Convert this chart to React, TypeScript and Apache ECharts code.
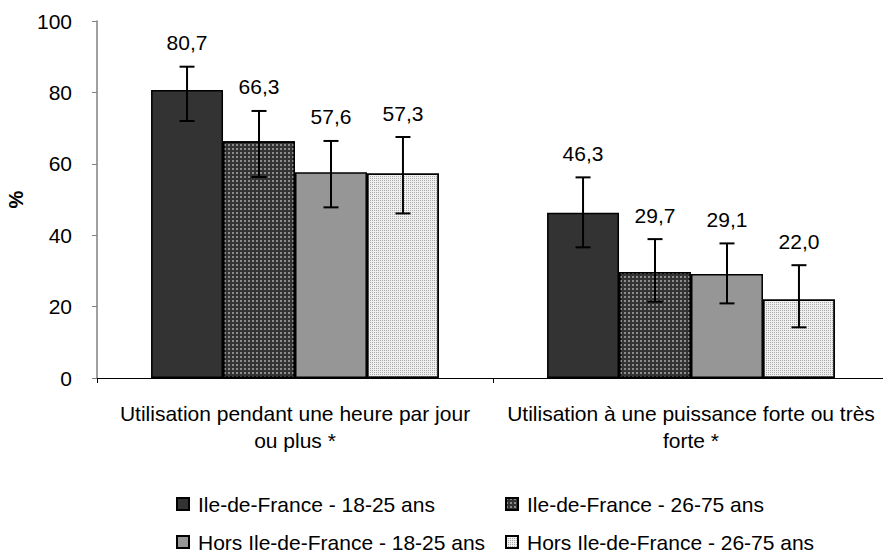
import React, { useEffect, useRef } from "react";
import * as echarts from "echarts";

const categories = [
  "Utilisation pendant une heure par jour\nou plus *",
  "Utilisation à une puissance forte ou très\nforte *",
];
const seriesNames = [
  "Ile-de-France - 18-25 ans",
  "Ile-de-France - 26-75 ans",
  "Hors Ile-de-France - 18-25 ans",
  "Hors Ile-de-France - 26-75 ans",
];
const idf1825 = [80.7, 46.3];
const idf2675 = [66.3, 29.7];
const hors1825 = [57.6, 29.1];
const hors2675 = [57.3, 22.0];
const idf1825Low = [72.0, 36.6];
const idf1825High = [87.2, 56.2];
const idf2675Low = [56.3, 21.4];
const idf2675High = [74.8, 38.9];
const hors1825Low = [47.8, 20.9];
const hors1825High = [66.4, 37.7];
const hors2675Low = [46.1, 14.2];
const hors2675High = [67.5, 31.6];
const yTicks = [0, 20, 40, 60, 80, 100];

const FONT = "'Liberation Sans', Arial, sans-serif";
const CAT_GAP = 0.273;

export default function App() {
  const ref = useRef<HTMLDivElement>(null);
  useEffect(() => {
    document.body.style.margin = "0";
    if (!ref.current) return;
    const chart = echarts.init(ref.current, null, { renderer: "svg" });
    const values = [idf1825, idf2675, hors1825, hors2675];
    const lows = [idf1825Low, idf2675Low, hors1825Low, hors2675Low];
    const highs = [idf1825High, idf2675High, hors1825High, hors2675High];
    const styles: any[] = [
      { color: "#333333", borderColor: "#000", borderWidth: 1.5 },
      {
        color: "#333333",
        borderColor: "#000",
        borderWidth: 1.5,
        decal: {
          symbol: "rect",
          symbolSize: 0.8,
          color: "rgba(225,225,225,0.85)",
          dashArrayX: [2, 2],
          dashArrayY: [2, 2],
        },
      },
      { color: "#969696", borderColor: "#000", borderWidth: 1.5 },
      {
        color: "#f0f0f0",
        borderColor: "#000",
        borderWidth: 1.5,
        decal: {
          symbol: "rect",
          symbolSize: 1,
          color: "#a8a8a8",
          dashArrayX: [1, 1],
          dashArrayY: [1, 1],
        },
      },
    ];
    const barSeries = seriesNames.map((name, i) => ({
      name,
      type: "bar",
      data: values[i],
      barGap: "0%",
      barCategoryGap: (CAT_GAP * 100).toFixed(1) + "%",
      itemStyle: styles[i],
      z: 2,
    }));
    const errData: number[][] = [];
    for (let s = 0; s < 4; s++) {
      for (let c = 0; c < categories.length; c++) {
        errData.push([c, s, lows[s][c], highs[s][c], values[s][c]]);
      }
    }
    const errSeries = {
      type: "custom",
      z: 5,
      encode: { x: 0, y: [2, 3] },
      data: errData,
      renderItem: (params: any, api: any) => {
        const c = api.value(0);
        const s = api.value(1);
        const lo = api.value(2);
        const hi = api.value(3);
        const v = api.value(4);
        const bandW = api.size([1, 0])[0];
        const barW = (bandW * (1 - CAT_GAP)) / 4;
        const pLo = api.coord([c, lo]);
        const pHi = api.coord([c, hi]);
        const x = pLo[0] + (s - 1.5) * barW;
        const cap = 7.5;
        const ls = { stroke: "#000", lineWidth: 2 };
        return {
          type: "group",
          children: [
            { type: "line", shape: { x1: x, y1: pLo[1], x2: x, y2: pHi[1] }, style: ls },
            { type: "line", shape: { x1: x - cap, y1: pHi[1], x2: x + cap, y2: pHi[1] }, style: ls },
            { type: "line", shape: { x1: x - cap, y1: pLo[1], x2: x + cap, y2: pLo[1] }, style: ls },
            {
              type: "text",
              x: x,
              y: pHi[1] - 24,
              style: {
                text: v.toFixed(1).replace(".", ","),
                fill: "#000",
                font: `21px ${FONT}`,
                align: "center",
                verticalAlign: "middle",
              },
            },
          ],
        };
      },
    };
    const legendText = { fontFamily: FONT, fontSize: 21, color: "#000", padding: [0, 0, 0, 4], lineHeight: 24 };
    const legendBase = {
      orient: "vertical",
      top: 487,
      height: 90,
      itemWidth: 12,
      itemHeight: 12,
      itemGap: 14,
      icon: "rect",
      textStyle: legendText,
    };
    chart.setOption({
      animation: false,
      textStyle: { fontFamily: FONT },
      grid: {
        left: 97,
        right: -6,
        top: 21,
        bottom: 177,
        containLabel: false,
        outerBoundsMode: "none",
      },
      legend: [
        { ...legendBase, data: [seriesNames[0], seriesNames[2]], left: 171 },
        { ...legendBase, data: [seriesNames[1], seriesNames[3]], left: 500 },
      ],
      xAxis: {
        type: "category",
        data: categories,
        axisLine: { lineStyle: { color: "#000", width: 1 } },
        axisTick: { show: true, length: 5, lineStyle: { color: "#000" } },
        axisLabel: {
          interval: 0,
          margin: 22,
          color: "#000",
          fontSize: 21,
          lineHeight: 27,
          fontFamily: FONT,
        },
      },
      yAxis: {
        type: "value",
        min: yTicks[0],
        max: yTicks[yTicks.length - 1],
        interval: yTicks[1] - yTicks[0],
        name: "%",
        nameLocation: "middle",
        nameRotate: 90,
        nameGap: 68,
        nameTextStyle: { fontSize: 20, fontWeight: "bold", color: "#000", fontFamily: FONT },
        axisLine: { show: true, lineStyle: { color: "#808080", width: 1.5 } },
        axisTick: { show: true, length: 5, inside: false, lineStyle: { color: "#808080" } },
        splitLine: { show: false },
        axisLabel: { margin: 25, color: "#000", fontSize: 21, fontFamily: FONT },
      },
      series: [...barSeries, errSeries],
    });
    return () => chart.dispose();
  }, []);
  return <div ref={ref} style={{ width: 883, height: 555 }} />;
}
